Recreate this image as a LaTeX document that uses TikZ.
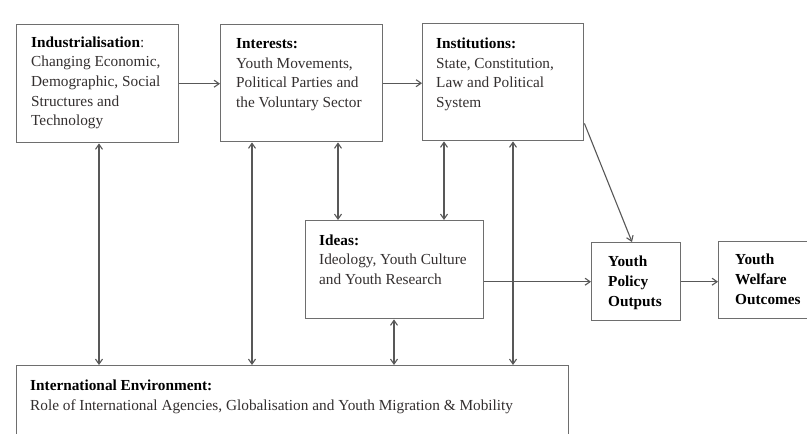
\documentclass[tikz,border=0pt]{standalone}
\usepackage{fontspec}
\setmainfont{Liberation Serif}
\usetikzlibrary{arrows.meta}
\definecolor{boxline}{HTML}{6E6E6E}
\definecolor{arrline}{HTML}{585858}
\definecolor{bodytext}{HTML}{332F2F}
\begin{document}
\begin{tikzpicture}[x=1pt,y=-1pt,
  boxnode/.style={draw=boxline, line width=1.4pt, inner sep=0pt, anchor=north west},
  txt/.style={anchor=north west, inner sep=0pt, align=left, font=\fontsize{15.3}{19.6}\selectfont, text=bodytext},
  btxt/.style={txt, text=black, font=\fontsize{15.3}{20}\selectfont\bfseries},
  tip/.tip={Straight Barb[length=5pt,width=7pt]},
  arr/.style={draw=arrline, line width=1.1pt, -tip},
  dbl/.style={draw=arrline, line width=1.1pt, tip-tip}]
\useasboundingbox (0,0) rectangle (807,434);
\clip (0,0) rectangle (807,434);
\fill[white] (0,0) rectangle (807,434);

% boxes
\node[boxnode, minimum width=162pt, minimum height=118pt] (ind)   at (16,24)  {};
\node[boxnode, minimum width=162pt, minimum height=117pt] (int)   at (220,24) {};
\node[boxnode, minimum width=161pt, minimum height=117pt] (inst)  at (422,23) {};
\node[boxnode, minimum width=178pt, minimum height=98pt]  (ideas) at (305,220) {};
\node[boxnode, minimum width=89pt,  minimum height=78pt]  (ypo)   at (591,242) {};
\node[boxnode, minimum width=110pt, minimum height=77pt]  (ywo)   at (718,241) {};
\node[boxnode, minimum width=552pt, minimum height=110pt] (env)   at (16,365) {};

% texts
\node[txt] (indt) at (31,33.3) {\strut\textbf{\color{black}Industrialisation}:\\Changing Economic,\\Demographic, Social\\Structures and\\Technology};
\node[txt] (intt) at (236,34.8) {\strut\textbf{\color{black}Interests:}\\Youth Movements,\\Political Parties and\\the Voluntary Sector};
\node[txt] (instt) at (436,34.8) {\strut\textbf{\color{black}Institutions:}\\State, Constitution,\\Law and Political\\System};
\node[txt] (ideast) at (319,231.3) {\strut\textbf{\color{black}Ideas:}\\Ideology, Youth Culture\\and Youth Research};
\node[btxt] (ypot) at (608,252.3) {\strut Youth\\Policy\\Outputs};
\node[btxt] (ywot) at (735,249.8) {\strut Youth\\Welfare\\Outcomes};
\node[txt] (envt) at (30,376.8) {\strut\textbf{\color{black}International Environment:}\\Role of International Agencies, Globalisation and Youth Migration \& Mobility};

% horizontal flow
\draw[arr] (ind.east) -- (ind.east -| int.west);
\draw[arr] (int.east) -- (int.east -| inst.west);
\draw[arr] (ypo.west -| ideas.east) -- (ypo.west);
\draw[arr] (ypo.east) -- (ypo.east -| ywo.west);
\draw[arr] ([yshift=18pt]inst.south east) -- ([xshift=41pt]ypo.north west);

% vertical two-way links
\draw[dbl] ([xshift=83pt]ind.south west) -- ([xshift=83pt]ind.south west |- env.north);
\draw[dbl] ([xshift=32pt]int.south west) -- ([xshift=32pt]int.south west |- env.north);
\draw[dbl] ([xshift=118pt]int.south west) -- ([xshift=118pt]int.south west |- ideas.north);
\draw[dbl] ([xshift=22pt]inst.south west) -- ([xshift=22pt]inst.south west |- ideas.north);
\draw[dbl] ([xshift=91pt]inst.south west) -- ([xshift=91pt]inst.south west |- env.north);
\draw[dbl] ([xshift=89pt]ideas.south west) -- ([xshift=89pt]ideas.south west |- env.north);
\end{tikzpicture}
\end{document}
